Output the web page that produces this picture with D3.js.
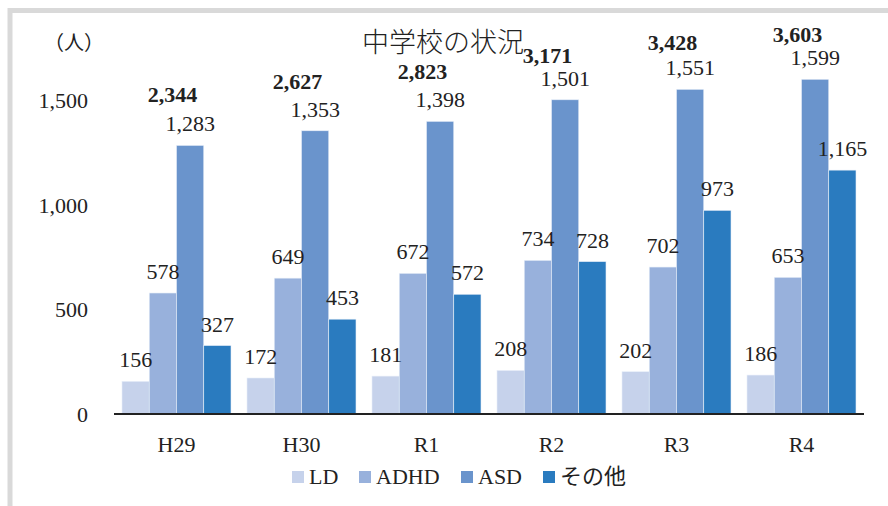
<!DOCTYPE html>
<html>
<head>
<meta charset="utf-8">
<script src="https://cdn.jsdelivr.net/npm/d3@7"></script>
<style>
  body { margin: 0; background: #fff; }
  svg text { font-family: "Liberation Serif", "Noto Sans CJK JP", serif; fill: #222; }
</style>
</head>
<body>
<div id="chart"></div>
<script>
// --- datos ---
const years = ["H29", "H30", "R1", "R2", "R3", "R4"];
const seriesNames = ["LD", "ADHD", "ASD", "その他"];
const ld = [156, 172, 181, 208, 202, 186];
const adhd = [578, 649, 672, 734, 702, 653];
const asd = [1283, 1353, 1398, 1501, 1551, 1599];
const other = [327, 453, 572, 728, 973, 1165];
const totals = [2344, 2627, 2823, 3171, 3428, 3603];
const yTicks = [0, 500, 1000, 1500];
const colors = ["#c6d2eb", "#98b1dc", "#6a94cc", "#2a7bbf"];

const width = 888, height = 506;

const svg = d3.select("#chart").append("svg")
    .attr("width", width)
    .attr("height", height);

// marco gris
svg.append("rect")
    .attr("x", 10).attr("y", 10.5)
    .attr("width", 900).attr("height", 520)
    .attr("fill", "none")
    .attr("stroke", "#d9d9d9")
    .attr("stroke-width", 5);

const x0 = d3.scaleBand()
    .domain(years)
    .range([114, 864])
    .paddingInner(0.128)
    .paddingOuter(0.064);

const x1 = d3.scaleBand()
    .domain(seriesNames)
    .range([0, x0.bandwidth()]);

const y = d3.scaleLinear()
    .domain([0, 1500])
    .range([414, 100]);

// escala secundaria para los totales (serie invisible)
const yTotal = d3.scaleLinear()
    .domain([2000, 4000])
    .range([112, 16]);

const rows = years.map((yr, i) => ({
    year: yr,
    values: [ld[i], adhd[i], asd[i], other[i]]
}));

// barras
const groups = svg.selectAll(".group")
    .data(rows)
    .enter().append("g")
    .attr("class", "group")
    .attr("transform", d => `translate(${x0(d.year)},0)`);

groups.selectAll("rect")
    .data(d => d.values.map((v, j) => ({ key: seriesNames[j], value: v, j })))
    .enter().append("rect")
    .attr("x", d => x1(d.key))
    .attr("y", d => y(d.value))
    .attr("width", x1.bandwidth())
    .attr("height", d => y(0) - y(d.value))
    .attr("fill", d => colors[d.j])
    .attr("stroke", "#e8eef8")
    .attr("stroke-width", 0.6);

// etiquetas de valores
groups.selectAll(".val")
    .data(d => d.values.map((v, j) => ({ key: seriesNames[j], value: v })))
    .enter().append("text")
    .attr("class", "val")
    .attr("x", d => x1(d.key) + x1.bandwidth() / 2)
    .attr("y", d => y(d.value) - 14)
    .attr("text-anchor", "middle")
    .style("font-size", "22px")
    .text(d => d3.format(",")(d.value));

// totales en negrita
svg.selectAll(".total")
    .data(totals)
    .enter().append("text")
    .attr("class", "total")
    .attr("x", (d, i) => x0(years[i]) + x0.bandwidth() / 2 - 4)
    .attr("y", d => yTotal(d) + 7)
    .attr("text-anchor", "middle")
    .style("font-size", "22px")
    .style("font-weight", "bold")
    .text(d => d3.format(",")(d));

// eje x
svg.append("line")
    .attr("x1", 114).attr("x2", 864)
    .attr("y1", y(0)).attr("y2", y(0))
    .attr("stroke", "#222")
    .attr("stroke-width", 2);

svg.selectAll(".xlab")
    .data(years)
    .enter().append("text")
    .attr("x", d => x0(d) + x0.bandwidth() / 2)
    .attr("y", 452)
    .attr("text-anchor", "middle")
    .style("font-size", "22px")
    .text(d => d);

// eje y
svg.selectAll(".ylab")
    .data(yTicks)
    .enter().append("text")
    .attr("x", 88)
    .attr("y", d => y(d) + 8)
    .attr("text-anchor", "end")
    .style("font-size", "22px")
    .text(d => d3.format(",")(d));

svg.append("text")
    .attr("x", 44).attr("y", 50)
    .style("font-size", "20px")
    .text("（人）");

// título
svg.append("text")
    .attr("x", 443).attr("y", 52)
    .attr("text-anchor", "middle")
    .style("font-size", "27px")
    .style("font-weight", "300")
    .text("中学校の状況");

// leyenda
const legendX = [292, 359, 461, 543];
const legend = svg.selectAll(".legend")
    .data(seriesNames)
    .enter().append("g")
    .attr("transform", (d, i) => `translate(${legendX[i]},471)`);

legend.append("rect")
    .attr("width", 12).attr("height", 12)
    .attr("fill", (d, i) => colors[i]);

legend.append("text")
    .attr("x", 17).attr("y", 13)
    .style("font-size", "22px")
    .text(d => d);
</script>
</body>
</html>
